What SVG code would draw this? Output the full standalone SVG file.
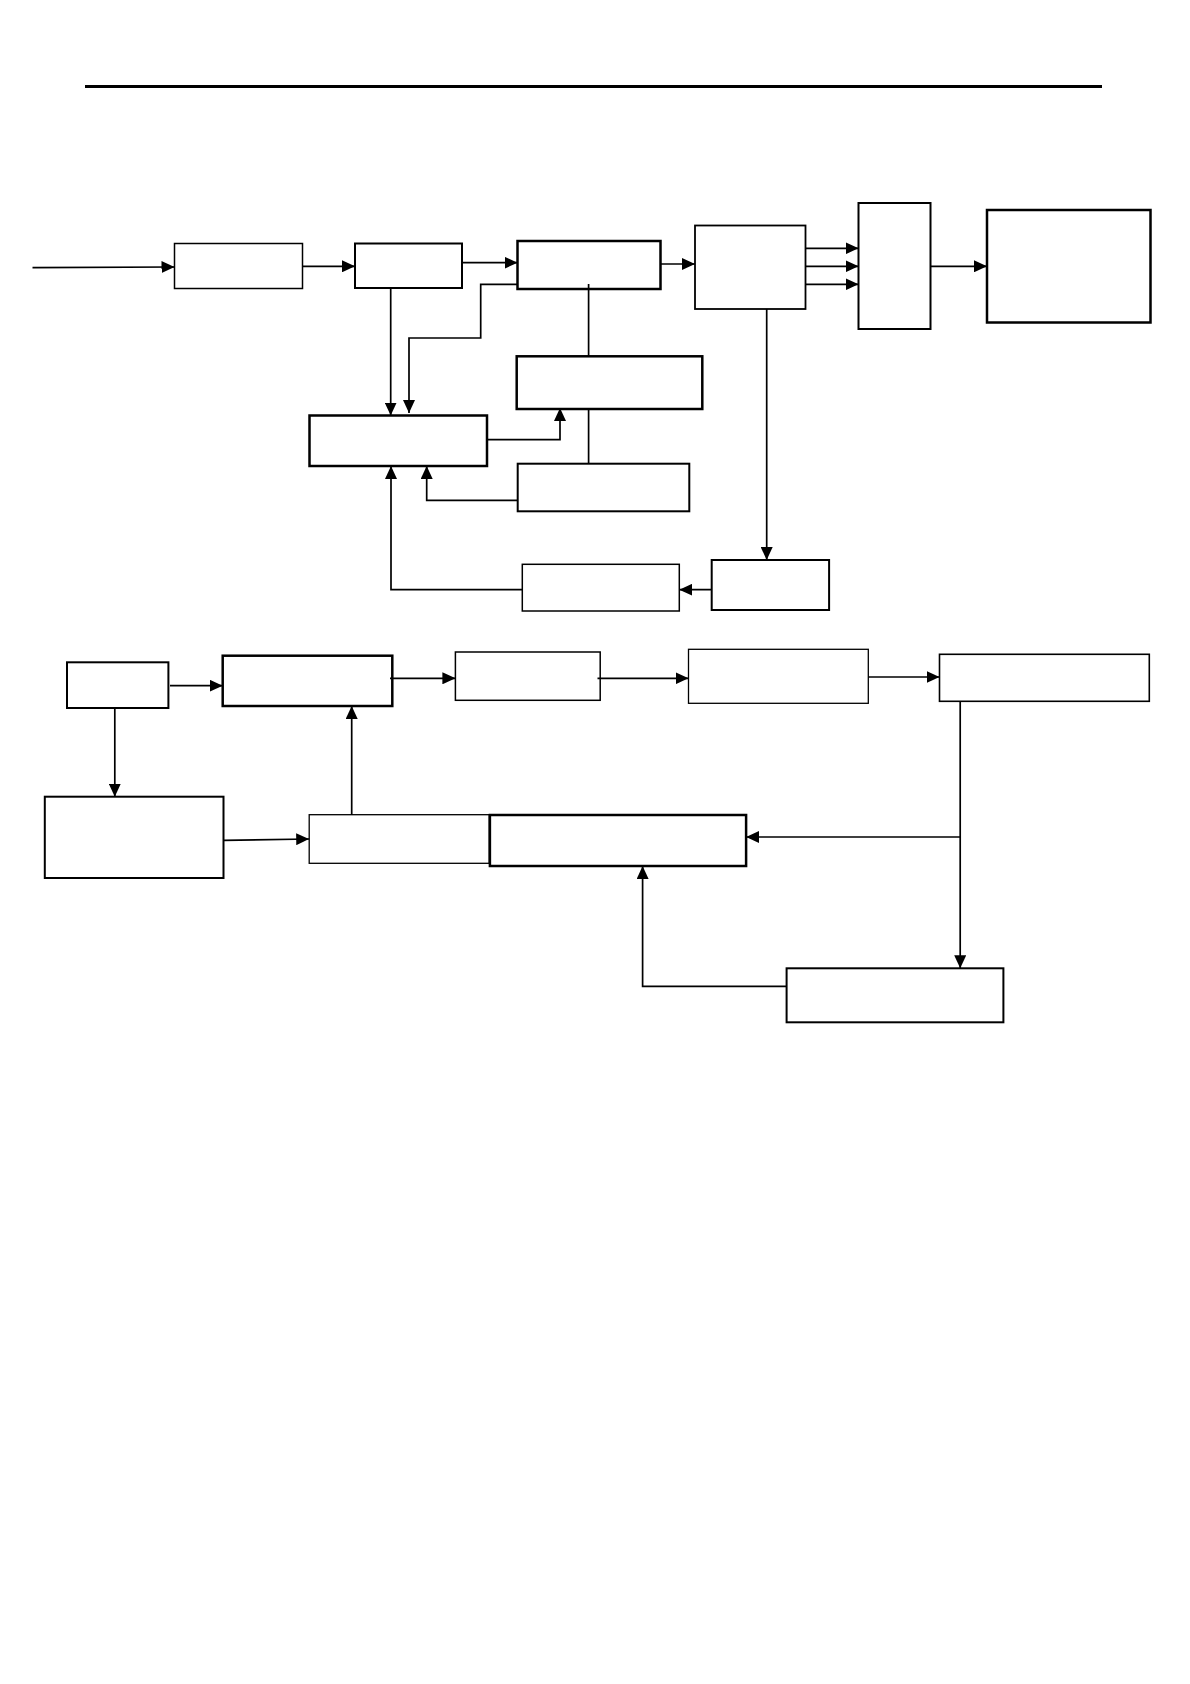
<svg xmlns="http://www.w3.org/2000/svg" width="1190" height="1684" viewBox="0 0 1190 1684">
<style>
.n{fill:#fff;stroke:#000}
.c{fill:none;stroke:#000;stroke-width:1.7}
.a{marker-end:url(#ah)}
</style>
<defs>
<marker id="ah" markerUnits="userSpaceOnUse" markerWidth="13" markerHeight="12" refX="13" refY="6" orient="auto">
<path d="M0,0 L13,6 L0,12 z" fill="#000"/>
</marker>
</defs>
<rect width="1190" height="1684" fill="#fff"/>
<line x1="85" y1="86.5" x2="1102" y2="86.5" stroke="#000" stroke-width="3"/>
<g id="A"><rect class="n" x="174.5" y="243.5" width="128" height="45" stroke-width="1.5"/></g>
<g id="B"><rect class="n" x="355" y="243.5" width="107" height="44.5" stroke-width="2"/></g>
<g id="C"><rect class="n" x="517.5" y="241" width="143" height="48" stroke-width="2.5"/></g>
<g id="D"><rect class="n" x="695" y="225.5" width="110.5" height="83.5" stroke-width="1.8"/></g>
<g id="E"><rect class="n" x="858.5" y="203" width="72" height="126" stroke-width="2"/></g>
<g id="F"><rect class="n" x="987" y="210" width="163.5" height="112.5" stroke-width="2.5"/></g>
<g id="G"><rect class="n" x="309.5" y="415.5" width="177.5" height="50.5" stroke-width="2.5"/></g>
<g id="H"><rect class="n" x="516.7" y="356.3" width="185.6" height="52.7" stroke-width="2.5"/></g>
<g id="I"><rect class="n" x="517.7" y="463.7" width="171.6" height="47.6" stroke-width="2"/></g>
<g id="J"><rect class="n" x="711.7" y="560" width="117.4" height="50" stroke-width="2"/></g>
<g id="K"><rect class="n" x="522.3" y="564.3" width="157" height="46.7" stroke-width="1.5"/></g>
<g id="L"><rect class="n" x="67" y="662.3" width="101.4" height="45.7" stroke-width="2"/></g>
<g id="M"><rect class="n" x="222.7" y="655.7" width="169.6" height="50.3" stroke-width="2.5"/></g>
<g id="N"><rect class="n" x="455.4" y="652" width="144.8" height="48.3" stroke-width="1.5"/></g>
<g id="O"><rect class="n" x="688.5" y="649.3" width="179.8" height="54" stroke-width="1.3"/></g>
<g id="P"><rect class="n" x="939.5" y="654.3" width="209.8" height="47" stroke-width="1.6"/></g>
<g id="Q"><rect class="n" x="44.8" y="796.7" width="178.7" height="81.3" stroke-width="2"/></g>
<g id="R"><rect class="n" x="309.2" y="814.7" width="180" height="48.6" stroke-width="1.3"/></g>
<g id="S"><rect class="n" x="489.9" y="815" width="256.2" height="51" stroke-width="2.5"/></g>
<g id="T"><rect class="n" x="786.6" y="968.3" width="216.8" height="54" stroke-width="2"/></g>
<g id="connectors">
<path class="c a" d="M32.5,267.7 L174.5,267"/>
<path class="c a" d="M302,266.3 L355,266.3"/>
<path class="c a" d="M462,262.7 L517.5,262.7"/>
<path class="c a" d="M660,264 L695,264"/>
<path class="c a" d="M805,248.3 L858.5,248.3"/>
<path class="c a" d="M805,266.3 L858.5,266.3"/>
<path class="c a" d="M805,284.3 L858.5,284.3"/>
<path class="c a" d="M930.7,266.3 L987,266.3"/>
<path class="c a" d="M390.7,288 L390.7,415.5"/>
<path class="c a" d="M517.5,284.3 L480.7,284.3 L480.7,338 L409,338 L409,413"/>
<path class="c a" d="M487,439.7 L560,439.7 L560,408"/>
<path class="c" d="M588.6,284 L588.6,356.3"/>
<path class="c" d="M588.6,409 L588.6,463.7"/>
<path class="c a" d="M517.7,500.3 L426.7,500.3 L426.7,466"/>
<path class="c a" d="M766.7,309 L766.7,560"/>
<path class="c a" d="M711.7,589.7 L679.3,589.7"/>
<path class="c a" d="M522.3,589.7 L391,589.7 L391,466"/>
<path class="c a" d="M170,685.7 L222.7,685.7"/>
<path class="c a" d="M390,678.3 L455.4,678.3"/>
<path class="c a" d="M597.5,678.3 L688.5,678.3"/>
<path class="c a" d="M868.3,677 L939.5,677"/>
<path class="c a" d="M114.8,708 L114.8,796.7"/>
<path class="c a" d="M223.5,840.3 L309.2,839"/>
<path class="c a" d="M351.7,814.7 L351.7,706"/>
<path class="c a" d="M960.2,701.3 L960.2,968.3"/>
<path class="c a" d="M960.2,837 L746.1,837"/>
<path class="c a" d="M786.6,986.3 L642.6,986.3 L642.6,866"/>
</g>
</svg>
